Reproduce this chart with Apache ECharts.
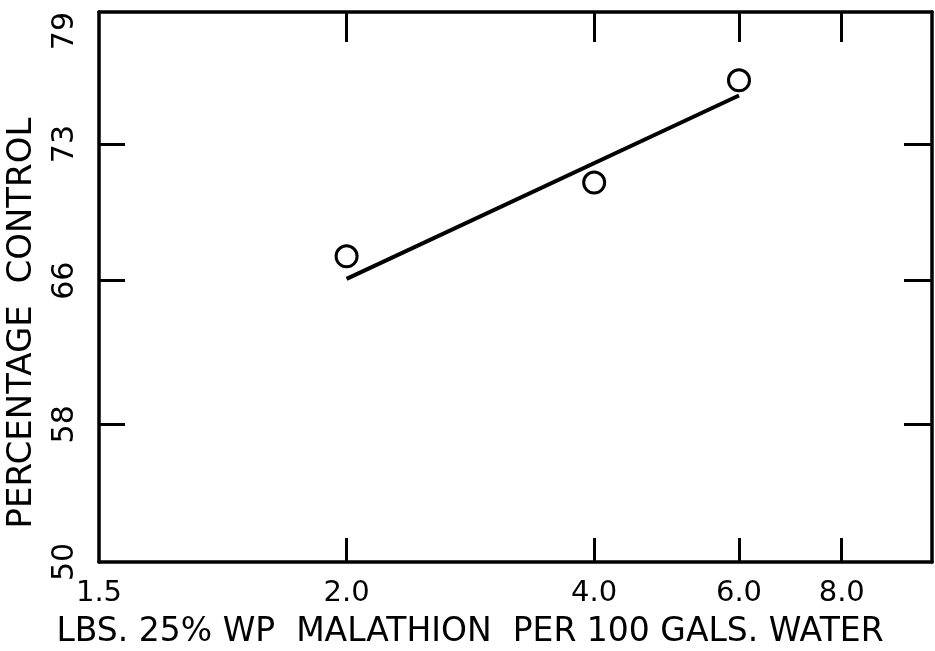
<!DOCTYPE html>
<html>
<head>
<meta charset="utf-8">
<script src="https://cdn.jsdelivr.net/npm/echarts@6/dist/echarts.min.js"></script>
<style>
  html, body { margin: 0; padding: 0; background: #fff; }
  #chart { width: 935px; height: 651px; }
</style>
</head>
<body>
<div id="chart"></div>
<script>
// dose (lbs. 25% WP per 100 gals.) and observed percentage control
const doses = [2.0, 4.0, 6.0]
const percentControl = [67.3, 71.1, 76.0]
// fitted dose-response line
const fitDoses = [2.0, 6.0]
const fitPercent = [66.1, 75.3]
// axis ticks
const xLabelValues = [1, 2, 4, 6, 8]
const xLabelTexts = ['1.5', '2.0', '4.0', '6.0', '8.0']
const xTickValues = [2, 4, 6, 8]
const yTickLabels = [50, 58, 66, 73, 79]
const yTickMarks = [58, 66, 73]

// probit scale (inverse normal cdf, Acklam approximation)
function probit(p) {
  const a = [-39.69683028665376, 220.9460984245205, -275.9285104469687, 138.357751867269, -30.66479806614716, 2.506628277459239]
  const b = [-54.47609879822406, 161.5858368580409, -155.6989798598866, 66.80131188771972, -13.28068155288572]
  const c = [-0.007784894002430293, -0.3223964580411365, -2.400758277161838, -2.549732539343734, 4.374664141464968, 2.938163982698783]
  const d = [0.007784695709041462, 0.3224671290700398, 2.445134137142996, 3.754408661907416]
  const pl = 0.02425
  let q, r
  if (p < pl) {
    q = Math.sqrt(-2 * Math.log(p))
    return (((((c[0] * q + c[1]) * q + c[2]) * q + c[3]) * q + c[4]) * q + c[5]) / ((((d[0] * q + d[1]) * q + d[2]) * q + d[3]) * q + 1)
  }
  if (p > 1 - pl) {
    q = Math.sqrt(-2 * Math.log(1 - p))
    return -(((((c[0] * q + c[1]) * q + c[2]) * q + c[3]) * q + c[4]) * q + c[5]) / ((((d[0] * q + d[1]) * q + d[2]) * q + d[3]) * q + 1)
  }
  q = p - 0.5
  r = q * q
  return (((((a[0] * r + a[1]) * r + a[2]) * r + a[3]) * r + a[4]) * r + a[5]) * q / (((((b[0] * r + b[1]) * r + b[2]) * r + b[3]) * r + b[4]) * r + 1)
}
const toProbit = (pct) => probit(pct / 100)

const FONT = 'DejaVu Sans'
const yLabelPos = yTickLabels.map(toProbit)

function yLabelText(val) {
  let best = 0
  yLabelPos.forEach((v, i) => {
    if (Math.abs(v - val) < Math.abs(yLabelPos[best] - val)) best = i
  })
  return String(yTickLabels[best])
}
function xLabelText(val) {
  let best = 0
  xLabelValues.forEach((v, i) => {
    if (Math.abs(v - val) < Math.abs(xLabelValues[best] - val)) best = i
  })
  return xLabelTexts[best]
}

const lineStyle = { color: '#000', width: 3.5 }

const xBase = {
  type: 'log',
  logBase: 10,
  min: 1,
  max: 10.3,
  axisLine: { show: true, onZero: false, lineStyle: lineStyle },
  splitLine: { show: false },
  minorTick: { show: false }
}
const yBase = {
  type: 'value',
  min: toProbit(yTickLabels[0]),
  max: toProbit(yTickLabels[yTickLabels.length - 1]),
  axisLine: { show: true, onZero: false, lineStyle: lineStyle },
  splitLine: { show: false }
}

const chart = echarts.init(document.getElementById('chart'))
chart.setOption({
  backgroundColor: '#fff',
  animation: false,
  grid: { left: 99, right: 3, top: 12, bottom: 89, containLabel: false },
  xAxis: [
    Object.assign({}, xBase, {
      position: 'bottom',
      axisTick: { show: true, inside: true, length: 24, customValues: xTickValues, lineStyle: { color: '#000', width: 3 } },
      axisLabel: {
        show: true,
        customValues: xLabelValues,
        formatter: xLabelText,
        margin: 17,
        color: '#000',
        fontFamily: FONT,
        fontSize: 29
      }
    }),
    Object.assign({}, xBase, {
      position: 'top',
      axisTick: { show: true, inside: true, length: 30, customValues: xTickValues, lineStyle: { color: '#000', width: 3 } },
      axisLabel: { show: false }
    })
  ],
  yAxis: [
    Object.assign({}, yBase, {
      position: 'left',
      axisTick: { show: true, inside: true, length: 26, customValues: yTickMarks.map(toProbit), lineStyle: { color: '#000', width: 3 } },
      axisLabel: {
        show: true,
        customValues: yLabelPos,
        formatter: yLabelText,
        rotate: 90,
        margin: 19,
        alignMaxLabel: 'right',
        color: '#000',
        fontFamily: FONT,
        fontSize: 30
      }
    }),
    Object.assign({}, yBase, {
      position: 'right',
      axisTick: { show: true, inside: true, length: 28, customValues: yTickMarks.map(toProbit), lineStyle: { color: '#000', width: 3 } },
      axisLabel: { show: false }
    })
  ],
  graphic: [
    {
      type: 'text',
      x: 470,
      y: 632,
      style: {
        text: 'LBS. 25% WP  MALATHION  PER 100 GALS. WATER',
        font: '33px "' + FONT + '"',
        fill: '#000',
        align: 'center',
        verticalAlign: 'middle'
      }
    },
    {
      type: 'text',
      x: 22,
      y: 323,
      rotation: Math.PI / 2,
      style: {
        text: 'PERCENTAGE  CONTROL',
        font: '34px "' + FONT + '"',
        fill: '#000',
        align: 'center',
        verticalAlign: 'middle'
      }
    }
  ],
  series: [
    {
      name: 'fit',
      type: 'line',
      data: fitDoses.map((d, i) => [d, toProbit(fitPercent[i])]),
      showSymbol: false,
      symbol: 'none',
      lineStyle: { color: '#000', width: 4 },
      z: 2
    },
    {
      name: 'observed',
      type: 'scatter',
      data: doses.map((d, i) => [d, toProbit(percentControl[i])]),
      symbol: 'circle',
      symbolSize: 21,
      itemStyle: { color: '#fff', borderColor: '#000', borderWidth: 3, opacity: 1 },
      z: 3
    }
  ]
})
</script>
</body>
</html>
